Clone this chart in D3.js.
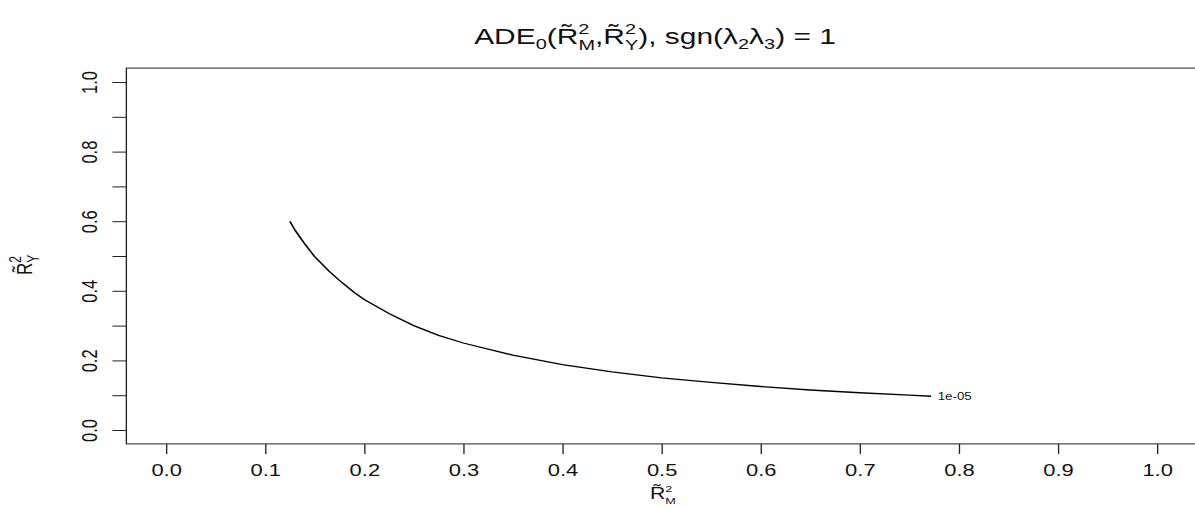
<!DOCTYPE html>
<html>
<head>
<meta charset="UTF-8">
<title>ADE contour</title>
<style>
  body { margin: 0; background: #fff; }
  text { font-family: "Liberation Sans", Arial, Helvetica, sans-serif; fill: #111; }
  .axis path, .axis line { stroke: #222; }
</style>
</head>
<body>
<script src="https://cdnjs.cloudflare.com/ajax/libs/d3/7.8.5/d3.min.js"></script>
<script>
// contour level 1e-05
var rm2 = [0.125, 0.13, 0.14, 0.15, 0.165, 0.175, 0.19, 0.2, 0.225, 0.25, 0.275, 0.3, 0.35, 0.4, 0.45, 0.5, 0.55, 0.6, 0.65, 0.7, 0.75, 0.772];
var ry2 = [0.600, 0.575, 0.535, 0.498, 0.455, 0.430, 0.395, 0.375, 0.335, 0.300, 0.272, 0.250, 0.215, 0.188, 0.167, 0.150, 0.137, 0.125, 0.115, 0.107, 0.100, 0.097];
var contourLabel = "1e-05";
var xTicks = [0, 0.1, 0.2, 0.3, 0.4, 0.5, 0.6, 0.7, 0.8, 0.9, 1.0];
var yTicks = [0, 0.1, 0.2, 0.3, 0.4, 0.5, 0.6, 0.7, 0.8, 0.9, 1.0];
var yLabelled = [0, 0.2, 0.4, 0.6, 0.8, 1.0];

var W = 1195, H = 508;
var s = 1.33;   // the original picture is stretched sideways

var svg = d3.select("body").append("svg")
  .attr("width", W).attr("height", H);
var g = svg.append("g").attr("transform", "scale(" + s + ",1)");

var x = d3.scaleLinear().domain([0, 1]).range([166 / s, 1157 / s]);
var y = d3.scaleLinear().domain([0, 1]).range([430, 82]);

// box
g.append("rect")
  .attr("x", x(-0.04)).attr("y", y(1.04))
  .attr("width", x(1.04) - x(-0.04)).attr("height", y(-0.04) - y(1.04))
  .attr("fill", "none").attr("stroke", "#222").attr("stroke-width", 1);

// x axis
var xa = g.append("g").attr("class", "axis")
  .attr("transform", "translate(0," + y(-0.04) + ")")
  .call(d3.axisBottom(x).tickValues(xTicks).tickSize(10).tickSizeOuter(0).tickPadding(10)
    .tickFormat(d3.format(".1f")));
xa.select(".domain").remove();
xa.selectAll("text").style("font-size", "16.5px");

// y axis
var ya = g.append("g").attr("class", "axis")
  .attr("transform", "translate(" + x(-0.04) + ",0)")
  .call(d3.axisLeft(y).tickValues(yTicks).tickSize(10.5).tickSizeOuter(0)
    .tickFormat(function(d) { return yLabelled.some(function(v) { return Math.abs(v - d) < 1e-9; }) ? d3.format(".1f")(d) : ""; }));
ya.select(".domain").remove();
ya.selectAll("text")
  .style("font-size", "16.5px")
  .attr("text-anchor", "middle")
  .attr("x", null).attr("dy", null)
  .attr("transform", "translate(-22,0) rotate(-90)");

// contour line
var pts = rm2.map(function(d, i) { return [d, ry2[i]]; });
g.append("path")
  .datum(pts)
  .attr("fill", "none").attr("stroke", "#000").attr("stroke-width", 1.3)
  .attr("d", d3.line().x(function(d) { return x(d[0]); }).y(function(d) { return y(d[1]); }));

g.append("text")
  .attr("x", x(rm2[rm2.length - 1]) + 5).attr("y", y(ry2[ry2.length - 1]) + 4)
  .style("font-size", "10px")
  .text(contourLabel);

// title
var sub = "15px";
var t = g.append("text")
  .attr("x", 655 / s).attr("y", 44)
  .attr("text-anchor", "middle")
  .style("font-size", "22.5px");
t.append("tspan").text("ADE");
t.append("tspan").attr("dy", 5).style("font-size", sub).text("0");
t.append("tspan").attr("dy", -5).text("(R\u0303");
t.append("tspan").attr("dy", -10).style("font-size", sub).text("2");
t.append("tspan").attr("dx", -8.3).attr("dy", 16).style("font-size", sub).text("M");
t.append("tspan").attr("dy", -6).text(",R\u0303");
t.append("tspan").attr("dy", -10).style("font-size", sub).text("2");
t.append("tspan").attr("dx", -8.3).attr("dy", 16).style("font-size", sub).text("Y");
t.append("tspan").attr("dy", -6).text("), sgn(\u03bb");
t.append("tspan").attr("dy", 5).style("font-size", sub).text("2");
t.append("tspan").attr("dy", -5).text("\u03bb");
t.append("tspan").attr("dy", 5).style("font-size", sub).text("3");
t.append("tspan").attr("dy", -5).text(") = 1");

// x label
var xl = g.append("text")
  .attr("x", 650 / s).attr("y", 499)
  .attr("text-anchor", "start")
  .style("font-size", "16px");
xl.append("tspan").text("R\u0303");
xl.append("tspan").attr("dy", -6.5).style("font-size", "9.5px").text("2");
xl.append("tspan").attr("dx", -5.3).attr("dy", 12).style("font-size", "9.5px").text("M");

// y label
var yl = g.append("text")
  .attr("transform", "translate(" + (32 / s) + "," + 275 + ") rotate(-90)")
  .attr("text-anchor", "start")
  .style("font-size", "17px");
yl.append("tspan").text("R\u0303");
yl.append("tspan").attr("dy", -8).style("font-size", "12px").text("2");
yl.append("tspan").attr("dx", -6.7).attr("dy", 13).style("font-size", "12px").text("Y");
</script>
</body>
</html>
